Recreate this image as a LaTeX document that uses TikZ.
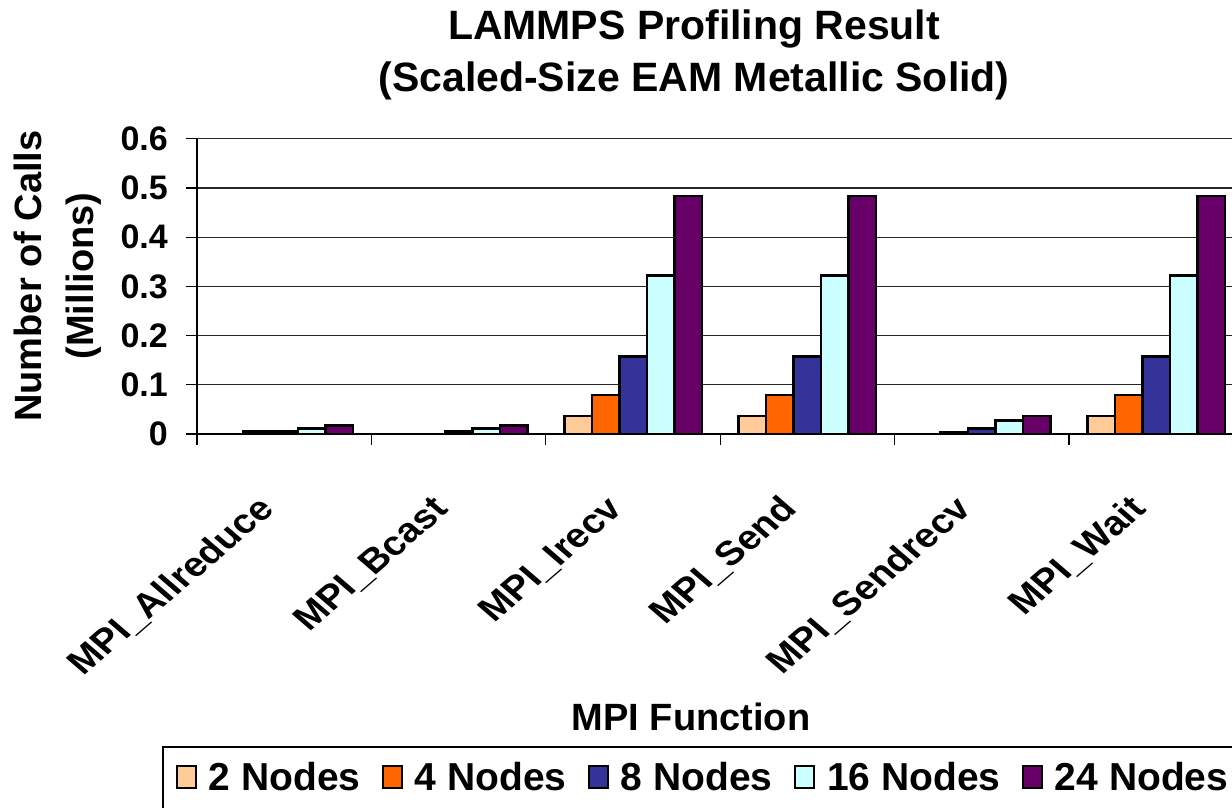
\documentclass[tikz,border=0pt]{standalone}
\usepackage{fontspec}
\setmainfont{Liberation Sans}
\usetikzlibrary{positioning}
\definecolor{nodeTwo}{HTML}{FFCC99}
\definecolor{nodeFour}{HTML}{FF6600}
\definecolor{nodeEight}{HTML}{333399}
\definecolor{nodeSixteen}{HTML}{CCFFFF}
\definecolor{nodeTwentyFour}{HTML}{660066}
\tikzstyle{bar} = [draw=black, line width=2.5pt]
\tikzstyle{gridline} = [line width=1.3pt, black!85]
\tikzstyle{axisline} = [line width=1.3pt, black]
\tikzstyle{ticklabel} = [font=\fontsize{34}{40}\selectfont\bfseries, inner sep=0, anchor=east]
\tikzstyle{catlabel} = [font=\fontsize{34}{40}\selectfont\bfseries, inner sep=0, xscale=1.16, rotate=45, anchor=base east]
\tikzstyle{key} = [draw=black, line width=2pt, minimum width=19pt, minimum height=22pt, inner sep=0]
\tikzstyle{keytext} = [font=\fontsize{39}{40}\selectfont\bfseries, inner sep=0]

\begin{document}
\begin{tikzpicture}[x=1pt, y=1pt]
        \clip (0,0) rectangle (1232,807);
        \fill[white] (0,0) rectangle (1232,807);

        % title and axis titles
        \node [font=\fontsize{41}{52}\selectfont\bfseries, align=center] (title) at (694,752) {LAMMPS Profiling Result\\(Scaled-Size EAM Metallic Solid)};
        \node [font=\fontsize{38}{52}\selectfont\bfseries, align=center, rotate=90, inner sep=0] (yTitle) at (58,531) {Number of Calls\\(Millions)};
        \node [font=\fontsize{38}{40}\selectfont\bfseries, inner sep=0] (xTitle) at (691,90) {MPI Function};

        \begin{scope}[shift={(197,373)}, x=174.4pt, y=492pt]
            % grid and axes
            \foreach \g in {0.1,0.2,0.3,0.4,0.5,0.6}
                \draw [gridline] (0,\g) -- (7,\g);
            \foreach \g [count=\k from 0] in {0,0.1,0.2,0.3,0.4,0.5,0.6} {
                \draw [axisline] (0,\g) -- ++(-11pt,0);
                \node [ticklabel] (tick\k) at (-0.166,\g) {\g};
            }
            \foreach \c in {0,...,6}
                \draw [axisline] (\c,0) -- ++(0,-11pt);
            \draw [axisline] (0,0.6) -- (0,0) -- (7,0);

            % bars, one series at a time
            \foreach \col/\vals [count=\s from 0] in {
                    nodeTwo/{0,0,0.037,0.037,0,0.037},
                    nodeFour/{0.005,0,0.079,0.079,0.004,0.079},
                    nodeEight/{0.005,0.005,0.158,0.158,0.011,0.158},
                    nodeSixteen/{0.011,0.011,0.322,0.322,0.027,0.322},
                    nodeTwentyFour/{0.017,0.017,0.484,0.484,0.037,0.484}} {
                \foreach \h [count=\c from 0] in \vals {
                    \ifdim \h pt>0pt
                        \draw [bar, fill=\col] (\c+0.106+\s*0.1577,0) rectangle ++(0.1577,\h);
                    \fi
                }
            }

            % category labels
            \foreach \name [count=\c from 0] in {MPI\_Allreduce,MPI\_Bcast,MPI\_Irecv,MPI\_Send,MPI\_Sendrecv,MPI\_Wait}
                \node [catlabel] (cat\c) at (\c+0.452,-0.156) {\name};
        \end{scope}

        % legend
        \draw [line width=1.5pt] (163,-20) rectangle (1300,60);
        \node [key, fill=nodeTwo] (keyTwo) at (186,30) {};
        \node [keytext, right=12pt of keyTwo] (labTwo) {2 Nodes};
        \node [key, fill=nodeFour, right=21pt of labTwo] (keyFour) {};
        \node [keytext, right=12pt of keyFour] (labFour) {4 Nodes};
        \node [key, fill=nodeEight, right=21pt of labFour] (keyEight) {};
        \node [keytext, right=12pt of keyEight] (labEight) {8 Nodes};
        \node [key, fill=nodeSixteen, right=21pt of labEight] (keySixteen) {};
        \node [keytext, right=12pt of keySixteen] (labSixteen) {16 Nodes};
        \node [key, fill=nodeTwentyFour, right=21pt of labSixteen] (keyTwentyFour) {};
        \node [keytext, right=12pt of keyTwentyFour] (labTwentyFour) {24 Nodes};
    \end{tikzpicture}
\end{document}
